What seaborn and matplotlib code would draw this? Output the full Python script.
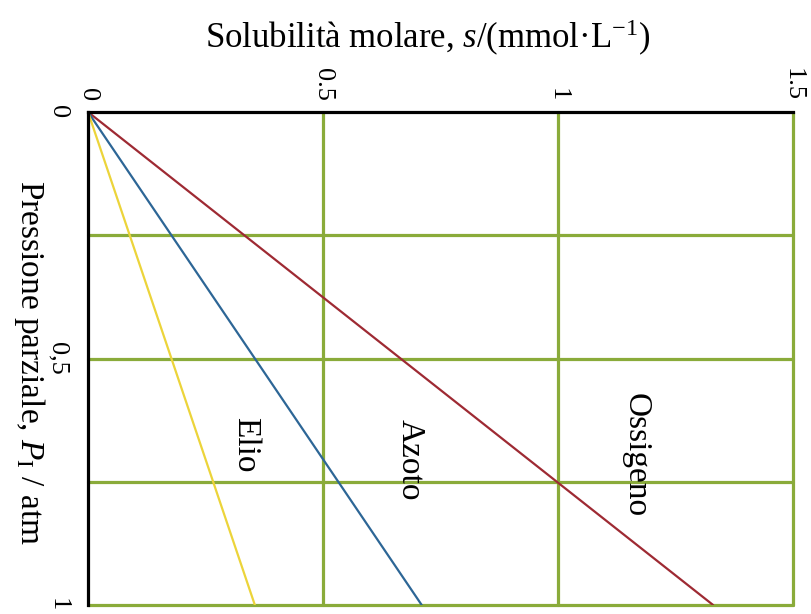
import matplotlib
matplotlib.use("Agg")
import matplotlib.pyplot as plt
import seaborn as sns
import pandas as pd

# Partial pressure (atm) and molar solubility (mmol/L) for each gas
pressione = [0.0, 1.0]
ossigeno = [0.0, 1.33]
azoto = [0.0, 0.71]
elio = [0.0, 0.355]

gas_names = ["Ossigeno", "Azoto", "Elio"]
gas_colors = ["#9e2a33", "#2d6696", "#ecd43a"]
label_pos = {"Ossigeno": (1.165, 0.695), "Azoto": (0.685, 0.705), "Elio": (0.335, 0.675)}

s_ticks = [0, 0.5, 1, 1.5]
s_ticklabels = ["0", "0.5", "1", "1.5"]
p_grid = [0.25, 0.5, 0.75, 1.0]
p_ticks = [0, 0.5, 1]
p_ticklabels = ["0", "0,5", "1"]

rows = []
for name, vals in zip(gas_names, [ossigeno, azoto, elio]):
    for p, s in zip(pressione, vals):
        rows.append({"gas": name, "P": p, "s": s})
df = pd.DataFrame(rows)

sns.set_theme(style="white")
plt.rcParams["font.family"] = ["Liberation Serif", "DejaVu Serif"]
plt.rcParams["mathtext.fontset"] = "custom"
plt.rcParams["mathtext.rm"] = "Liberation Serif"
plt.rcParams["mathtext.it"] = "Liberation Serif:italic"
plt.rcParams["text.color"] = "black"
plt.rcParams["xtick.color"] = "black"
plt.rcParams["ytick.color"] = "black"

fig = plt.figure(figsize=(8.12, 6.14), dpi=100)
ax = fig.add_axes([88 / 812, 1 - 605 / 614, 705 / 812, 493 / 614])

grid_green = "#8aab3a"
for p in p_grid:
    ax.axhline(p, color=grid_green, lw=2.3, zorder=1, clip_on=False)
for s in s_ticks[1:]:
    ax.axvline(s, color=grid_green, lw=2.3, zorder=1, clip_on=False)

sns.lineplot(data=df, x="s", y="P", hue="gas", hue_order=gas_names,
             palette=gas_colors, linewidth=1.6, legend=False, ax=ax,
             sort=False, zorder=3)

ax.set_xlim(0, 1.5)
ax.set_ylim(1, 0)

for name in gas_names:
    x, y = label_pos[name]
    ax.text(x, y, name, rotation=-90, ha="center", va="center",
            fontsize=24, color="black")

for side in ["right", "bottom"]:
    ax.spines[side].set_visible(False)
for side in ["top", "left"]:
    ax.spines[side].set_color("black")
    ax.spines[side].set_linewidth(2.3)
    ax.spines[side].set_zorder(4)

ax.xaxis.tick_top()
ax.set_xticks(s_ticks)
ax.set_xticklabels(s_ticklabels, rotation=-90, fontsize=19)
ax.set_yticks(p_ticks)
ax.set_yticklabels(p_ticklabels, rotation=-90, fontsize=19, va="center")
ax.tick_params(length=0, pad=8, colors="black")
ax.tick_params(axis="y", pad=14)

ax.set_xlabel("")
ax.set_ylabel("")
fig.text(0.527, 0.938, "Solubilità molare, $\\mathit{s}$/(mmol·L$^{-1}$)",
         ha="center", va="center", fontsize=25, color="black")
fig.text(0.036, 0.41, "Pressione parziale, $\\mathit{P}_\\mathrm{I}$ / atm",
         rotation=-90, ha="center", va="center", fontsize=24, color="black")

fig.savefig("out.png", dpi=100, facecolor="white")
